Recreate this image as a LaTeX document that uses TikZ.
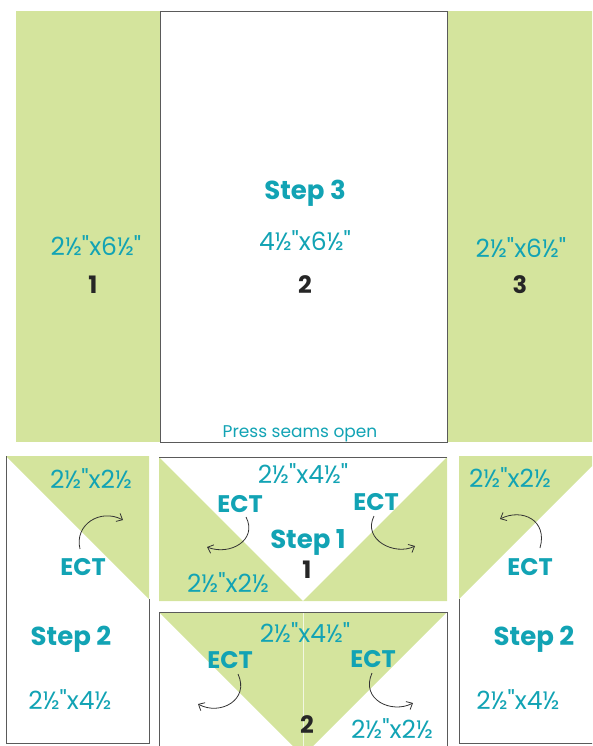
\documentclass[tikz,border=0pt]{standalone}
\usepackage{fontspec}
\setmainfont{Poppins}[Ligatures=TeXOff]
\usetikzlibrary{arrows.meta}
\definecolor{quiltgreen}{HTML}{D4E49D}
\definecolor{quiltteal}{HTML}{12A3B4}
\definecolor{seamgray}{HTML}{5A5A5A}
\begin{document}
\begin{tikzpicture}[x=1pt,y=-1pt,
  dim/.style={text=quiltteal,font=\fontsize{25}{25}\selectfont,inner sep=0pt,anchor=base},
  steplabel/.style={text=quiltteal,font=\fontsize{26}{26}\selectfont\bfseries,inner sep=0pt,anchor=base},
  ect/.style={text=quiltteal,font=\fontsize{24}{24}\selectfont\bfseries,inner sep=0pt,anchor=base},
  num/.style={text=black!85,font=\fontsize{24}{24}\selectfont\bfseries,inner sep=0pt,anchor=base},
  seam/.style={seamgray,line width=0.8pt},
  flip/.style={-{Straight Barb[length=5pt,width=9pt]},black!80,line width=0.8pt}]
\useasboundingbox (0,0) rectangle (592,746);
\clip (0,0) rectangle (592,746);
% step 3 strips
\fill[quiltgreen] (16,11) rectangle (160,442);
\fill[quiltgreen] (447,11) rectangle (600,442);
\draw[seam] (160,11) rectangle (447,442);
\node[steplabel] (s3) at (305,200) {Step 3};
\node[dim] (d2) at (305,250) {4½"x6½"};
\node[num] (n2) at (305,293) {2};
\node[dim] (d1) at (96,255) {2½"x6½"};
\node[num] (n1) at (93,293) {1};
\node[dim] (d3) at (521,257) {2½"x6½"};
\node[num] (n3) at (520,293) {3};
\node[dim,font=\fontsize{17}{17}\selectfont] (press) at (300,437) {Press seams open};
% step 2, left
\fill[quiltgreen] (6,456) -- (149,456) -- (149,599) -- cycle;
\draw[seam] (6,456) -- (6,743) -- (149,743) -- (149,599);
\node[dim] (dl) at (91,488) {2½"x2½};
\node[ect] (el) at (83,575) {ECT};
\node[steplabel] (sl) at (71,645) {Step 2};
\node[dim] (ll) at (70,709) {2½"x4½};
\coordinate (al1) at (80,549); \coordinate (al2) at (123,520);
\draw[flip] (al1) .. controls (74,525) and (100,508) .. (al2);
% step 1
\fill[quiltgreen] (159,457) -- (303,601) -- (159,601) -- cycle;
\fill[quiltgreen] (447,457) -- (447,601) -- (303,601) -- cycle;
\draw[seam] (159,457) -- (447,457);
\node[dim] (dt) at (303,483) {2½"x4½"};
\node[ect] (et1) at (240,512) {ECT};
\node[ect] (et2) at (376,510) {ECT};
\node[steplabel] (s1) at (308,548) {Step 1};
\node[num] (t1) at (307,578) {1};
\node[dim] (dtl) at (228,592) {2½"x2½};
\coordinate (at1) at (246,517); \coordinate (at2) at (207,547);
\draw[flip] (at1) .. controls (258,540) and (230,556) .. (at2);
\coordinate (at3) at (374,516); \coordinate (at4) at (415,546);
\draw[flip] (at3) .. controls (362,540) and (395,556) .. (at4);
% step 1, second row
\fill[quiltgreen] (159,612) -- (447,612) -- (303,756) -- cycle;
\draw[white!70!quiltgreen,line width=0.5pt] (303,612) -- (303,756);
\draw[seam] (159,612) rectangle (447,756);
\node[dim] (db) at (305,642) {2½"x4½"};
\node[ect] (eb1) at (230,668) {ECT};
\node[ect] (eb2) at (373,667) {ECT};
\node[num] (b2) at (307,733) {2};
\node[dim] (dbr) at (392,738) {2½"x2½};
\coordinate (ab1) at (238,674); \coordinate (ab2) at (198,704);
\draw[flip] (ab1) .. controls (250,700) and (220,716) .. (ab2);
\coordinate (ab3) at (372,673); \coordinate (ab4) at (413,703);
\draw[flip] (ab3) .. controls (360,700) and (392,714) .. (ab4);
% step 2, right
\fill[quiltgreen] (459,456) -- (602,456) -- (459,599) -- cycle;
\draw[seam] (459,599) -- (459,743) -- (602,743);
\node[dim] (dr) at (510,487) {2½"x2½};
\node[ect] (er) at (530,575) {ECT};
\node[steplabel] (sr) at (534,645) {Step 2};
\node[dim] (lr) at (518,709) {2½"x4½};
\coordinate (ar1) at (540,548); \coordinate (ar2) at (500,519);
\draw[flip] (ar1) .. controls (548,520) and (522,508) .. (ar2);
\end{tikzpicture}
\end{document}
